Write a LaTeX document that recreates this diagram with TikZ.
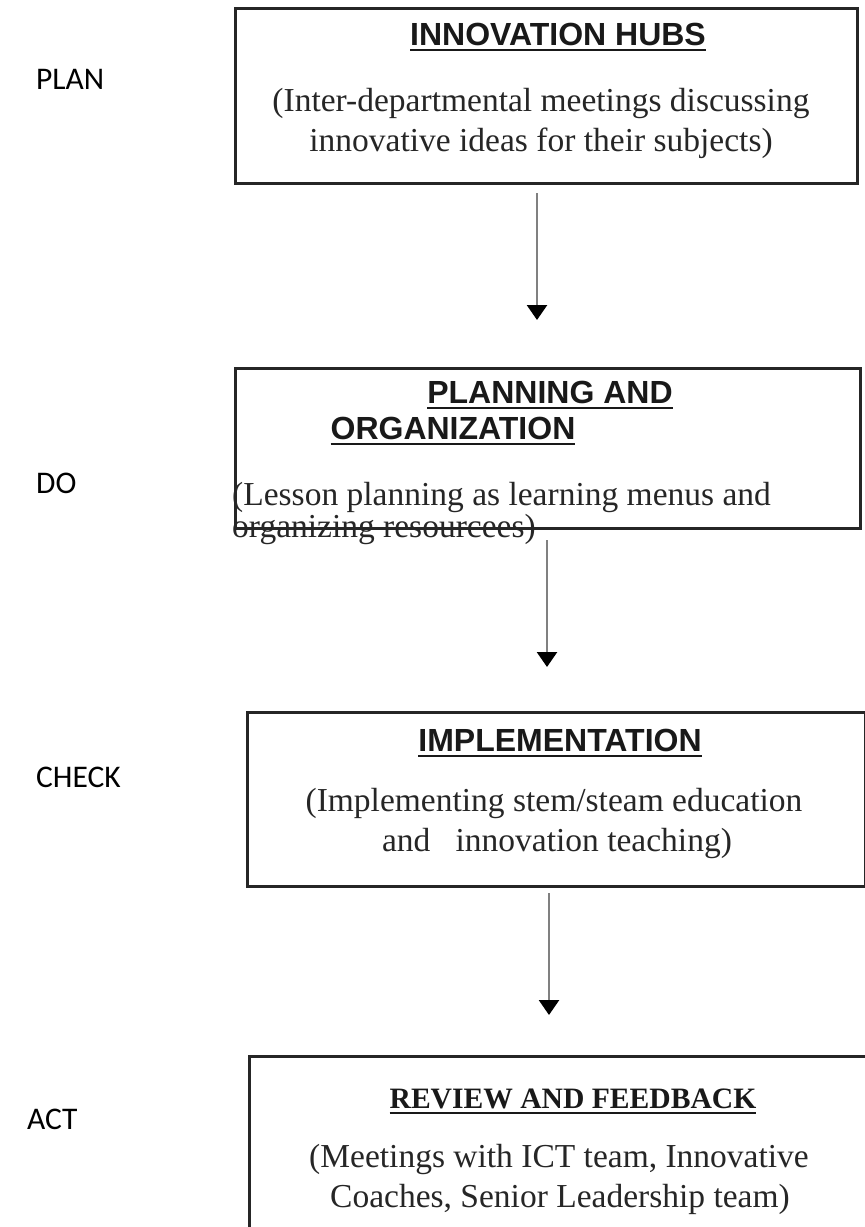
\documentclass[tikz,border=0pt]{standalone}
\usepackage{fontspec}
\setmainfont{Liberation Serif}
\newfontfamily\arialf{Liberation Sans}
\newfontfamily\calf{Carlito}
\usetikzlibrary{arrows.meta}
\newcommand{\ulx}[1]{\setbox0\hbox{#1}\rlap{\vrule height -3.5pt depth 6pt width \wd0}\box0}
\begin{document}
\begin{tikzpicture}[x=1pt,y=-1pt,
  box/.style={draw=black!85, line width=2.5pt, inner sep=0pt, anchor=north west},
  sansT/.style={font=\arialf\bfseries\fontsize{32}{38}\selectfont, anchor=base, inner sep=0pt, text=black!90},
  serT/.style={font=\bfseries\fontsize{29.6}{36}\selectfont, anchor=base, inner sep=0pt, text=black!90},
  body/.style={font=\fontsize{33.5}{40}\selectfont, anchor=base, inner sep=0pt, text=black!85},
  lab/.style={font=\calf\fontsize{31.5}{38}\selectfont, anchor=base west, inner sep=0pt},
  arr/.style={draw=black!50, line width=2.6pt, -{Triangle[width=20pt,length=15pt,color=black]}}]
\useasboundingbox (0,0) rectangle (865,1227);
\clip (0,0) rectangle (865,1227);
\fill[white] (0,0) rectangle (865,1227);

% boxes
\node[box, minimum width=622pt, minimum height=175pt] (b1) at (234,7) {};
\node[box, minimum width=625pt, minimum height=160pt] (b2) at (234,367) {};
\node[box, minimum width=618pt, minimum height=174pt] (b3) at (246,711) {};
\node[box, minimum width=620pt, minimum height=220pt] (b4) at (248,1055) {};

% left labels
\node[lab] (lplan) at (36,89) {PLAN};
\node[lab] (ldo) at (36,493) {DO};
\node[lab] (lcheck) at (36,787) {CHECK};
\node[lab] (lact) at (27,1129) {ACT};

% box 1
\node[sansT] (t1) at (558,45) {\ulx{INNOVATION HUBS}};
\node[body] (t1a) at (541,111) {(Inter-departmental meetings discussing};
\node[body] (t1b) at (541,151) {innovative ideas for their subjects)};

% box 2
\node[sansT] (t2a) at (550,403) {\ulx{PLANNING AND}};
\node[sansT] (t2b) at (453,439) {\ulx{ORGANIZATION}};
\node[body, anchor=base west] (t2c) at (232,505) {(Lesson planning as learning menus and};
\node[body, anchor=base west] (t2d) at (232,537) {organizing resourcees)};

% box 3
\node[sansT] (t3) at (560,751) {\ulx{IMPLEMENTATION}};
\node[body] (t3a) at (554,811) {(Implementing stem/steam education};
\node[body] (t3b) at (557,851) {and\ \ \ innovation teaching)};

% box 4
\node[serT] (t4) at (573,1108) {\ulx{REVIEW AND FEEDBACK}};
\node[body] (t4a) at (559,1167) {(Meetings with ICT team, Innovative};
\node[body] (t4b) at (560,1207) {Coaches, Senior Leadership team)};

% arrows
\coordinate (a1s) at (537,193);
\coordinate (a1e) at (537,320);
\coordinate (a2s) at (547,540);
\coordinate (a2e) at (547,667);
\coordinate (a3s) at (549,893);
\coordinate (a3e) at (549,1015);
\draw[arr] (a1s) -- (a1e);
\draw[arr] (a2s) -- (a2e);
\draw[arr] (a3s) -- (a3e);
\end{tikzpicture}
\end{document}
